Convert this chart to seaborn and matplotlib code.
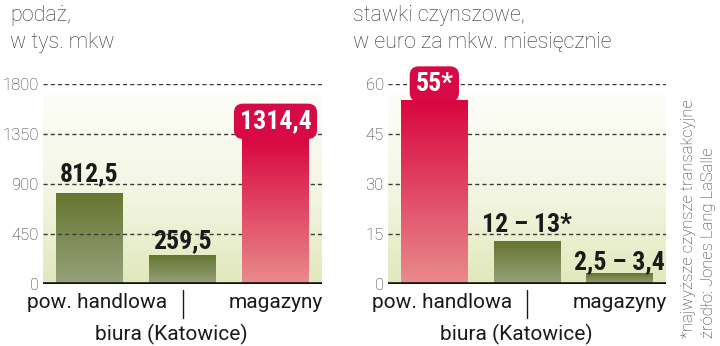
import numpy as np
import matplotlib
matplotlib.use("Agg")
import matplotlib.pyplot as plt
import seaborn as sns
from matplotlib import font_manager
from matplotlib.colors import LinearSegmentedColormap
from matplotlib.transforms import blended_transform_factory

# ---- data ----
categories = ["pow. handlowa", "biura (Katowice)", "magazyny"]
supply_values = [812.5, 259.5, 1314.4]
supply_labels = ["812,5", "259,5", "1314,4"]
rent_values = [55, 12.7, 3.2]
rent_labels = ["55*", "12 – 13*", "2,5 – 3,4"]
supply_ticks = [0, 450, 900, 1350, 1800]
rent_ticks = [0, 15, 30, 45, 60]
supply_title = "podaż,\nw tys. mkw"
rent_title = "stawki czynszowe,\nw euro za mkw. miesięcznie"
footnote = "*najwyższe czynsze transakcyjne"
source = "źródło: Jones Lang LaSalle"
highlight_supply = [False, False, True]
highlight_rent = [True, False, False]

sns.set_theme(style="white")
names = {f.name for f in font_manager.fontManager.ttflist}
bold_family = "DejaVu Sans"
for cand in ["Roboto Condensed", "Liberation Sans Narrow", "DejaVu Sans Condensed"]:
    if cand in names:
        bold_family = cand
        break
plt.rcParams["font.family"] = ["Roboto", "DejaVu Sans"]

fig = plt.figure(figsize=(7.2, 3.46), dpi=100)
W, H = 720, 346

def px_axes(x0, x1, ytop, ybot):
    return fig.add_axes([x0 / W, 1 - ybot / H, (x1 - x0) / W, (ybot - ytop) / H])

ax1 = px_axes(43, 322, 84, 284)
ax2 = px_axes(388, 666, 84, 284)

green_cmap = LinearSegmentedColormap.from_list("g", ["#97a27c", "#66752f"])
red_cmap = LinearSegmentedColormap.from_list("r", ["#e98b8d", "#d9063f"])
panel_cmap = LinearSegmentedColormap.from_list("p", ["#e1e8bb", "#f4f6e4", "#fdfdf8"])
grad = np.linspace(0, 1, 256).reshape(-1, 1)

def draw(ax, values, labels, ticks, highlight, ymax, panel_top, offsets):
    sns.barplot(x=categories, y=values, ax=ax, width=0.72, color="#66752f", saturation=1)
    ax.imshow(grad, extent=[-0.5, 2.5, 0, panel_top], origin="lower", aspect="auto",
              cmap=panel_cmap, zorder=0)
    for p, hl in zip(ax.patches, highlight):
        x, w, h = p.get_x(), p.get_width(), p.get_height()
        p.set_visible(False)
        ax.imshow(grad, extent=[x, x + w, 0, h], origin="lower", aspect="auto",
                  cmap=red_cmap if hl else green_cmap, zorder=4 if hl else 2)
    for t in ticks[1:]:
        ax.axhline(t, color="#3a3a3a", lw=1.0, ls=(0, (3, 2.2)), zorder=3)
    ax.axhline(0, color="#111111", lw=2.6, zorder=5)
    ax.set_xlim(-0.5, 2.5)
    ax.set_ylim(0, ymax)
    ax.set_yticks(ticks)
    ax.set_yticklabels([str(t) for t in ticks], fontsize=12, color="#333333",
                       fontweight="light")
    ax.tick_params(axis="y", length=0, pad=3)
    ax.set_xticks([])
    ax.set_xlabel("")
    ax.set_ylabel("")
    for s in ax.spines.values():
        s.set_visible(False)
    ax.set_facecolor("none")
    for i, (v, lab, hl, off) in enumerate(zip(values, labels, highlight, offsets)):
        if hl:
            ax.annotate(lab, (i, v), xytext=(0, off), textcoords="offset points",
                        ha="center", va="center", fontsize=18.5, fontweight="bold",
                        family=bold_family, color="white", zorder=7,
                        bbox=dict(boxstyle="round,pad=0.22,rounding_size=0.35",
                                  fc="#d80a45", ec="none"))
        else:
            ax.annotate(lab, (i, v), xytext=(0, off), textcoords="offset points",
                        ha="center", va="center", fontsize=18.5, fontweight="bold",
                        family=bold_family, color="#1a1a1a", zorder=7)
    tr = blended_transform_factory(ax.transData, ax.transAxes)
    ax.text(0.08, -0.045, categories[0], transform=tr, ha="center", va="top",
            fontsize=15, color="#1a1a1a")
    ax.text(2.0, -0.045, categories[2], transform=tr, ha="center", va="top",
            fontsize=15, color="#1a1a1a")
    ax.text(0.88, -0.2, categories[1], transform=tr, ha="center", va="top",
            fontsize=15, color="#1a1a1a")
    ax.plot([1.0, 1.0], [-0.03, -0.17], transform=tr, color="#1a1a1a", lw=1.0,
            clip_on=False)

draw(ax1, supply_values, supply_labels, supply_ticks, highlight_supply, 1800, 1700,
     [14, 10, 12])
draw(ax2, rent_values, rent_labels, rent_ticks, highlight_rent, 60, 56.7,
     [12, 12, 8])

fig.text(10 / W, 1 - 5 / H, supply_title, ha="left", va="top", fontsize=15.5,
         fontweight="light", color="#333333", linespacing=1.35)
fig.text(353 / W, 1 - 5 / H, rent_title, ha="left", va="top", fontsize=15.5,
         fontweight="light", color="#333333", linespacing=1.35)
fig.text(689 / W, 1 - 338 / H, footnote, rotation=90, ha="center", va="bottom",
         fontsize=12, fontweight="light", color="#333333")
fig.text(709 / W, 1 - 338 / H, source, rotation=90, ha="center", va="bottom",
         fontsize=12, fontweight="light", color="#333333")

fig.savefig("out.png", dpi=100, facecolor="white")
